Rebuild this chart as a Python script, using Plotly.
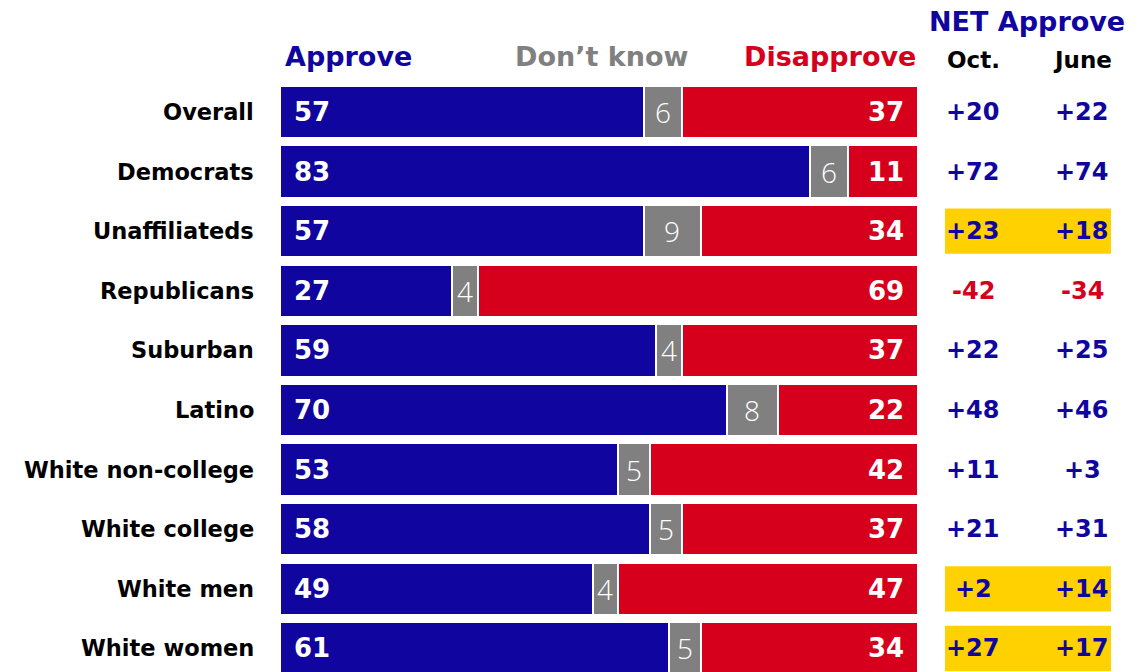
import plotly.graph_objects as go

groups = ["Overall", "Democrats", "Unaffiliateds", "Republicans", "Suburban",
          "Latino", "White non-college", "White college", "White men", "White women"]
approve = [57, 83, 57, 27, 59, 70, 53, 58, 49, 61]
dont_know = [6, 6, 9, 4, 4, 8, 5, 5, 4, 5]
disapprove = [37, 11, 34, 69, 37, 22, 42, 37, 47, 34]
net_oct = ["+20", "+72", "+23", "-42", "+22", "+48", "+11", "+21", "+2", "+27"]
net_june = ["+22", "+74", "+18", "-34", "+25", "+46", "+3", "+31", "+14", "+17"]
highlight = [False, False, True, False, False, False, False, False, True, True]

BLUE = "#10069F"
RED = "#D6001C"
GRAY = "#808080"
YELLOW = "#FFD100"
FONT = "DejaVu Sans"
LIGHT = "Open Sans"

W, H = 1145, 672
rows = list(range(len(groups)))

fig = go.Figure()
for vals, col in [(approve, BLUE), (dont_know, GRAY), (disapprove, RED)]:
    fig.add_trace(go.Bar(
        y=rows, x=vals, orientation="h", width=0.88,
        marker=dict(color=col, line=dict(color="white", width=2)),
        hoverinfo="skip", showlegend=False,
    ))

ann = []
for i, g in enumerate(groups):
    ann.append(dict(x=256 / W, xref="paper", y=i, yref="y", text=g, showarrow=False,
                    xanchor="right", yanchor="middle",
                    font=dict(family=FONT, size=22.5, color="black", weight=700)))
    ann.append(dict(x=0, xref="x", y=i, yref="y", text=str(approve[i]), showarrow=False,
                    xanchor="left", yanchor="middle", xshift=12,
                    font=dict(family=FONT, size=26, color="white", weight=700)))
    ann.append(dict(x=approve[i] + dont_know[i] / 2, xref="x", y=i, yref="y",
                    text=str(dont_know[i]), showarrow=False,
                    xanchor="center", yanchor="middle",
                    font=dict(family=LIGHT, size=28, color="white", weight=300)))
    ann.append(dict(x=100, xref="x", y=i, yref="y", text=str(disapprove[i]), showarrow=False,
                    xanchor="right", yanchor="middle", xshift=-12,
                    font=dict(family=FONT, size=26, color="white", weight=700)))
    for val, xc in [(net_oct[i], 973), (net_june[i], 1082)]:
        c = RED if val.startswith("-") else BLUE
        ann.append(dict(x=xc / W, xref="paper", y=i, yref="y", text=val, showarrow=False,
                        xanchor="center", yanchor="middle",
                        font=dict(family=FONT, size=24, color=c, weight=700)))

def py(p):
    return 1 - p / H

headers = [
    ("Approve", 283, 56, "left", BLUE, 27),
    ("Don’t know", 601, 56, "center", GRAY, 27),
    ("Disapprove", 918, 56, "right", RED, 27),
    ("NET Approve", 1027, 21, "center", BLUE, 27),
    ("Oct.", 973, 60, "center", "black", 23),
    ("June", 1082, 60, "center", "black", 23),
]
for t, x, y, anc, c, s in headers:
    ann.append(dict(x=x / W, xref="paper", y=py(y), yref="paper", text=t, showarrow=False,
                    xanchor=anc, yanchor="middle",
                    font=dict(family=FONT, size=s, color=c, weight=700)))

shapes = []
for i, h in enumerate(highlight):
    if h:
        shapes.append(dict(type="rect", xref="paper", yref="y", layer="below",
                           x0=945 / W, x1=1111 / W, y0=i - 0.38, y1=i + 0.38,
                           fillcolor=YELLOW, line=dict(width=0)))

fig.update_layout(
    width=W, height=H, barmode="stack", bargap=0,
    margin=dict(l=0, r=0, t=0, b=0),
    plot_bgcolor="white", paper_bgcolor="white",
    xaxis=dict(domain=[280 / W, 918 / W], range=[0, 100], visible=False, fixedrange=True),
    yaxis=dict(range=[9.396, -1.879], visible=False, fixedrange=True),
    annotations=ann, shapes=shapes,
)

fig.write_html("out.html", post_script="document.body.style.margin='0';",
               config={"displayModeBar": False})
